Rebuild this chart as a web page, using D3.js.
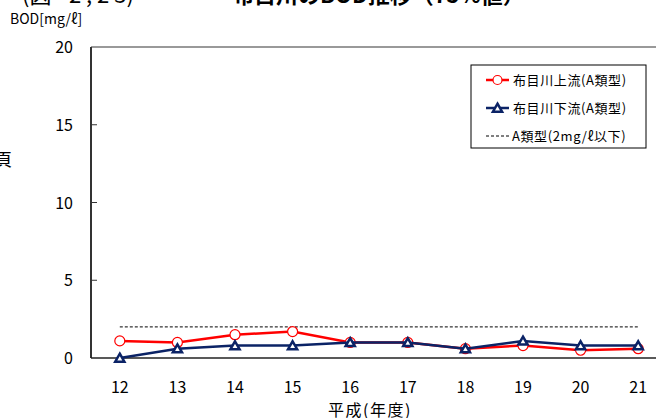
<!DOCTYPE html>
<html>
<head>
<meta charset="utf-8">
<script src="https://cdn.jsdelivr.net/npm/d3@7"></script>
<style>
  body { margin: 0; background: #fff; }
  svg { display: block; font-family: "Noto Sans CJK JP", "Noto Sans", sans-serif; }
</style>
</head>
<body>
<div id="chart"></div>
<script>
// years (Heisei) and BOD values
var years = ['12','13','14','15','16','17','18','19','20','21'];
var upstream = [1.1, 1.0, 1.5, 1.7, 1.0, 1.0, 0.6, 0.8, 0.5, 0.6];
var downstream = [0.0, 0.6, 0.8, 0.8, 1.0, 1.0, 0.6, 1.1, 0.8, 0.8];
var standard = 2;
var yTicks = [0, 5, 10, 15, 20];
var legendNames = ['布目川上流(A類型)', '布目川下流(A類型)', 'A類型(2mg/ℓ以下)'];

var width = 656, height = 418;
var plotLeft = 91, plotTop = 47, plotBottom = 358;

var svg = d3.select("#chart").append("svg")
    .attr("width", width).attr("height", height);

// clipped title at the top
svg.append("text").attr("x", 22).attr("y", 3)
    .attr("font-size", "22px").attr("fill", "#000")
    .text("(図 - 2 , 2 3)");
svg.append("text").attr("x", 232).attr("y", 3)
    .attr("font-size", "22px").attr("font-weight", "bold").attr("fill", "#000")
    .text("布目川のBOD推移（75%値）");

// cut off text on left edge
svg.append("text").attr("x", -5).attr("y", 166)
    .attr("font-size", "17px").attr("fill", "#000").text("頁");

var x = d3.scalePoint().domain(years).range([plotLeft, plotLeft + 57.6 * 10]).padding(0.5);
var y = d3.scaleLinear().domain([0, 20]).range([plotBottom, plotTop]);

// frame
svg.append("line").attr("x1", plotLeft).attr("x2", width).attr("y1", plotTop).attr("y2", plotTop)
    .attr("stroke", "#777").attr("stroke-width", 1.5);
svg.append("line").attr("x1", plotLeft).attr("x2", plotLeft).attr("y1", plotTop).attr("y2", plotBottom)
    .attr("stroke", "#333").attr("stroke-width", 2);
svg.append("line").attr("x1", plotLeft).attr("x2", width).attr("y1", plotBottom).attr("y2", plotBottom)
    .attr("stroke", "#222").attr("stroke-width", 1.5);

// y ticks (inward)
yTicks.forEach(function(t){
    if (t > 0 && t < 20) {
        svg.append("line").attr("x1", plotLeft).attr("x2", plotLeft + 6)
            .attr("y1", y(t)).attr("y2", y(t)).attr("stroke", "#333").attr("stroke-width", 1);
    }
    svg.append("text").attr("x", 73).attr("y", y(t) + 6)
        .attr("text-anchor", "end").attr("font-size", "16px").attr("fill", "#000")
        .text(t);
});

svg.append("text").attr("x", 10).attr("y", 24)
    .attr("font-size", "14px").attr("fill", "#000").text("BOD[mg/ℓ]");

// x labels
years.forEach(function(d){
    svg.append("text").attr("x", x(d)).attr("y", 393)
        .attr("text-anchor", "middle").attr("font-size", "16px").attr("fill", "#000")
        .text(d);
});
svg.append("text").attr("x", 370).attr("y", 416)
    .attr("text-anchor", "middle").attr("font-size", "16px").attr("fill", "#000")
    .attr("letter-spacing", "1.5px")
    .text("平成(年度)");

// standard dashed line
svg.append("line").attr("x1", x(years[0])).attr("x2", x(years[years.length - 1]))
    .attr("y1", y(standard)).attr("y2", y(standard))
    .attr("stroke", "#000").attr("stroke-width", 1).attr("stroke-dasharray", "3,2");

var line = d3.line().x(function(d, i){ return x(years[i]); }).y(function(d){ return y(d); });

var red = "#ff0000", navy = "#0b2366";

svg.append("path").datum(upstream).attr("d", line)
    .attr("fill", "none").attr("stroke", red).attr("stroke-width", 2.5);
svg.selectAll("circle.up").data(upstream).enter().append("circle")
    .attr("cx", function(d, i){ return x(years[i]); }).attr("cy", function(d){ return y(d); })
    .attr("r", 5).attr("fill", "#fff").attr("stroke", red).attr("stroke-width", 1.2);

var tri = d3.symbol().type(d3.symbolTriangle).size(36);
svg.append("path").datum(downstream).attr("d", line)
    .attr("fill", "none").attr("stroke", navy).attr("stroke-width", 2.5);
svg.selectAll("path.down").data(downstream).enter().append("path")
    .attr("class", "down").attr("d", tri)
    .attr("transform", function(d, i){ return "translate(" + x(years[i]) + "," + (y(d) + 1) + ")"; })
    .attr("fill", "#fff").attr("stroke", navy).attr("stroke-width", 2.5);

// legend
var lg = svg.append("g").attr("transform", "translate(471,65)");
lg.append("rect").attr("width", 175).attr("height", 83)
    .attr("fill", "#fff").attr("stroke", "#000").attr("stroke-width", 1);
var rows = [15, 43, 71];
lg.append("line").attr("x1", 15).attr("x2", 38).attr("y1", rows[0]).attr("y2", rows[0])
    .attr("stroke", red).attr("stroke-width", 2.5);
lg.append("circle").attr("cx", 26.5).attr("cy", rows[0]).attr("r", 4.5)
    .attr("fill", "#fff").attr("stroke", red).attr("stroke-width", 1.2);
lg.append("line").attr("x1", 15).attr("x2", 38).attr("y1", rows[1]).attr("y2", rows[1])
    .attr("stroke", navy).attr("stroke-width", 2.5);
lg.append("path").attr("d", tri).attr("transform", "translate(26.5," + (rows[1] + 1) + ")")
    .attr("fill", "#fff").attr("stroke", navy).attr("stroke-width", 2.5);
lg.append("line").attr("x1", 15).attr("x2", 38).attr("y1", rows[2]).attr("y2", rows[2])
    .attr("stroke", "#000").attr("stroke-width", 1).attr("stroke-dasharray", "3,2");
legendNames.forEach(function(n, i){
    lg.append("text").attr("x", i < 2 ? 42 : 41).attr("y", rows[i] + 5)
        .attr("font-size", "13px").attr("letter-spacing", "0.6px").attr("fill", "#000").text(n);
});
</script>
</body>
</html>
